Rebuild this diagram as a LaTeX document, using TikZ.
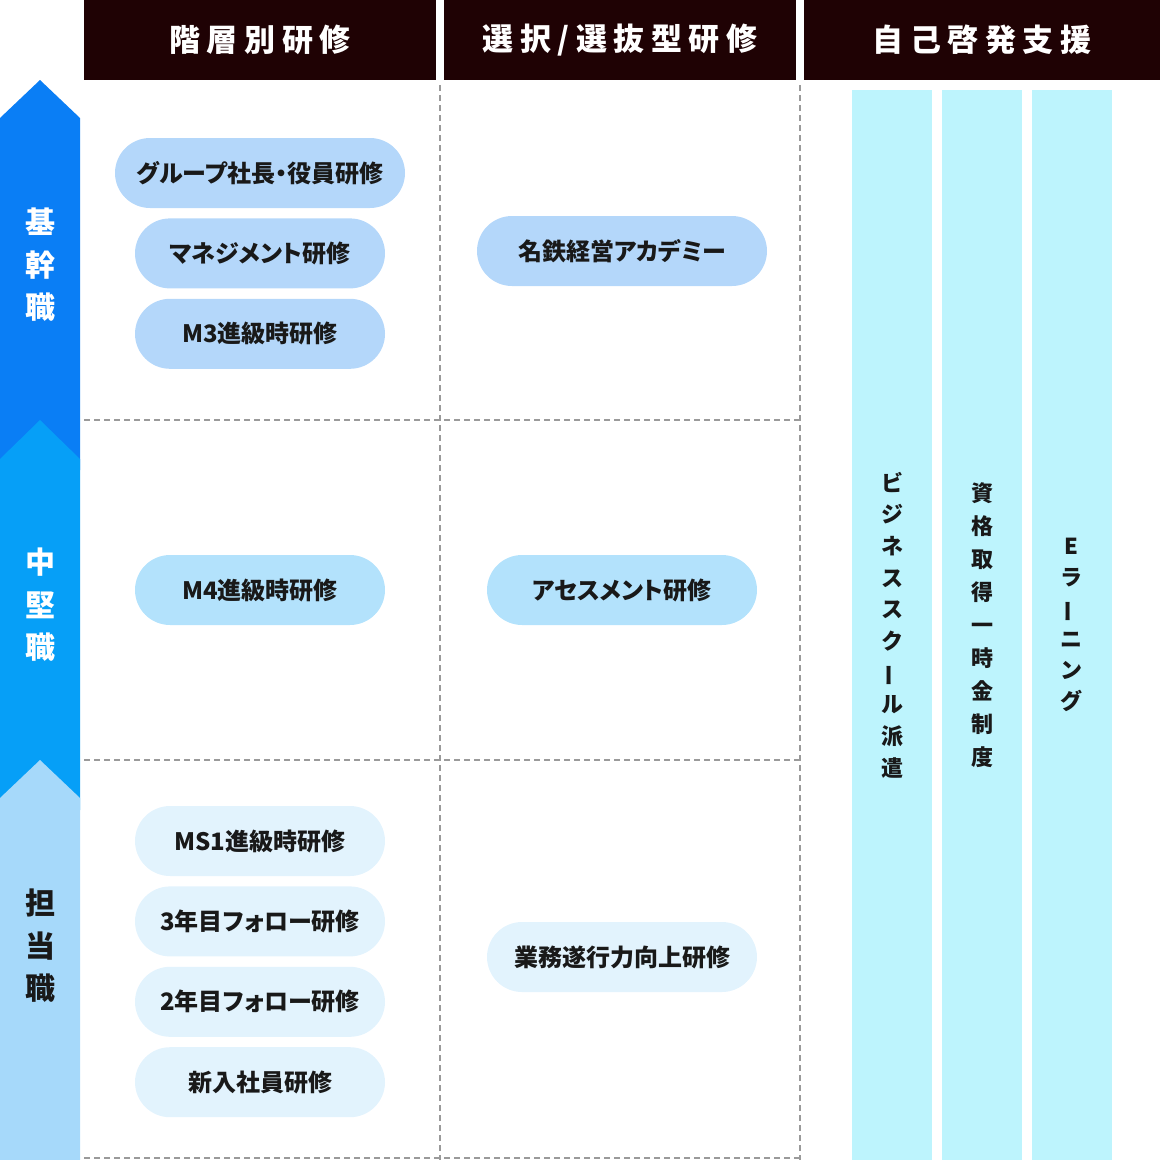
\documentclass[tikz,border=0pt]{standalone}
\usepackage{fontspec}
\usepackage{graphicx}
\setmainfont{Noto Sans CJK JP}
\newfontfamily\headfont{Noto Sans CJK JP}[LetterSpace=21]
\newfontfamily\pillfont{Noto Sans CJK JP}[RawFeature=+palt]
\usetikzlibrary{positioning, calc}

\definecolor{headbg}{HTML}{1F0204}
\definecolor{rankA}{HTML}{0A7EF5}
\definecolor{rankB}{HTML}{069FF7}
\definecolor{rankC}{HTML}{A6D9FA}
\definecolor{pillA}{HTML}{B4D7FA}
\definecolor{pillB}{HTML}{B3E2FC}
\definecolor{pillC}{HTML}{E2F3FD}
\definecolor{stripbg}{HTML}{BDF4FD}
\definecolor{gridline}{HTML}{9A9A9A}
\newcommand{\vbar}{\rotatebox[origin=c]{90}{ー}}

\begin{document}
\begin{tikzpicture}[x=1pt, y=-1pt,
  head/.style={fill=headbg, text=white, font=\headfont\bfseries\fontsize{31}{31}\selectfont, minimum height=80pt, inner sep=0pt},
  pill/.style={fill=#1, rounded corners=35pt, minimum height=70pt, minimum width=250pt, inner sep=0pt, font=\pillfont\bfseries\fontsize{24}{24}\selectfont, text=black!90},
  pill/.default=pillA,
  strip/.style={fill=stripbg, minimum width=80pt, minimum height=1070pt, inner sep=0pt, align=center, text=black!90},
  rank/.style={align=center, font=\bfseries\fontsize{30}{42.5}\selectfont},
  grid/.style={draw=gridline, line width=1.5pt, dash pattern=on 6pt off 4pt}]
\useasboundingbox (0,0) rectangle (1160,1160);

% column heads
\node [head, minimum width=352pt] (h1) at (260,40) {階層別研修};
\node [head, minimum width=352pt] (h2) at (620,40) {選択/選抜型研修};
\node [head, minimum width=356pt] (h3) at (982,40) {自己啓発支援};

% rank arrows
\fill [rankA] (0,118) -- (40,80) -- (80,118) -- (80,470) -- (0,470) -- cycle;
\fill [rankB] (0,459) -- (40,420) -- (80,459) -- (80,810) -- (0,810) -- cycle;
\fill [rankC] (0,798) -- (40,760) -- (80,798) -- (80,1160) -- (0,1160) -- cycle;
\node [rank, text=white] (kikan) at (40,265) {基\\幹\\職};
\node [rank, text=white] (chuken) at (40,605) {中\\堅\\職};
\node [rank, text=black!90] (tanto) at (40,946) {担\\当\\職};

% grid
\coordinate (g1t) at (440,85);
\coordinate (g1b) at (440,1160);
\coordinate (g2t) at (800,85);
\coordinate (g2b) at (800,1160);
\coordinate (r1l) at (84,420);
\coordinate (r1r) at (800,420);
\coordinate (r2l) at (84,760);
\coordinate (r2r) at (800,760);
\coordinate (r3l) at (84,1158);
\coordinate (r3r) at (800,1158);
\draw [grid] (g1t) -- (g1b);
\draw [grid] (g2t) -- (g2b);
\draw [grid] (r1l) -- (r1r);
\draw [grid] (r2l) -- (r2r);
\draw [grid] (r3l) -- (r3r);

% layered training
\node [pill, minimum width=290pt] (board) at (260,173) {グループ社長・役員研修};
\node [pill, below=10pt of board] (mgmt) {マネジメント研修};
\node [pill, below=10pt of mgmt] (mthree) {M3進級時研修};
\node [pill=pillB] (mfour) at (260,590) {M4進級時研修};
\node [pill=pillC] (msone) at (260,841) {MS1進級時研修};
\node [pill=pillC, below=10pt of msone] (yearthree) {3年目フォロー研修};
\node [pill=pillC, below=10pt of yearthree] (yeartwo) {2年目フォロー研修};
\node [pill=pillC, below=10pt of yeartwo] (newhire) {新入社員研修};

% selective training
\node [pill, minimum width=290pt] (academy) at (622,251) {名鉄経営アカデミー};
\node [pill=pillB, minimum width=270pt] (assess) at (622,590) {アセスメント研修};
\node [pill=pillC, minimum width=270pt] (gyomu) at (622,957) {業務遂行力向上研修};

% self development
\node [strip, font=\bfseries\fontsize{22}{31.7}\selectfont] (school) at (892,625) {ビ\\ジ\\ネ\\ス\\ス\\ク\\\vbar\\ル\\派\\遣};
\node [strip, font=\bfseries\fontsize{22}{33}\selectfont] (license) at (982,625) {資\\格\\取\\得\\一\\時\\金\\制\\度};
\node [strip, font=\bfseries\fontsize{22}{31}\selectfont] (elearn) at (1071.5,625) {E\\ラ\\\vbar\\ニ\\ン\\グ};
\end{tikzpicture}
\end{document}
